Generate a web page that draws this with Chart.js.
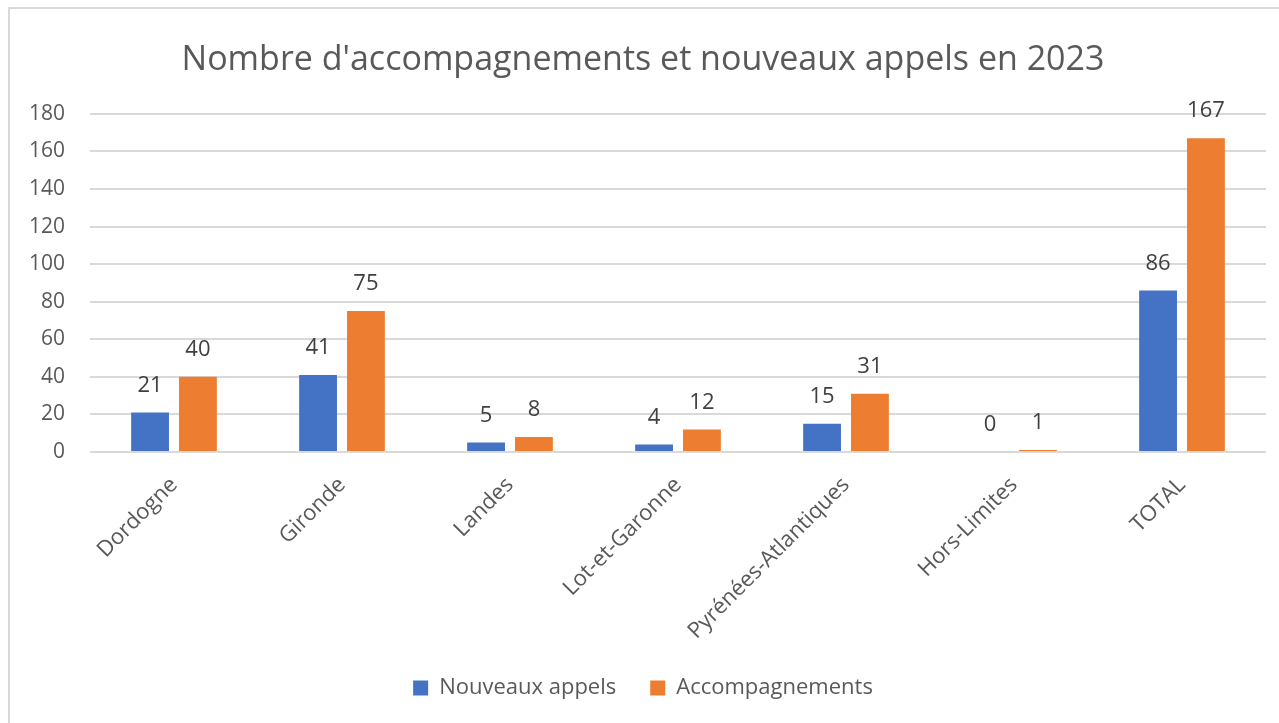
<!DOCTYPE html>
<html>
<head>
<meta charset="utf-8">
<script src="https://cdn.jsdelivr.net/npm/chart.js@4"></script>
<style>
  html, body { margin: 0; padding: 0; background: #fff; overflow: hidden; }
  #frame { position: absolute; left: 8px; top: 7px; width: 1300px; height: 800px; border: 2px solid #d9d9d9; pointer-events: none; }
  #wrap { position: absolute; left: 0; top: 0; width: 1279px; height: 723px; }
</style>
</head>
<body>
<div id="wrap"><canvas id="chart" width="1279" height="723"></canvas></div>
<div id="frame"></div>
<script>
const categories = ["Dordogne", "Gironde", "Landes", "Lot-et-Garonne", "Pyrénées-Atlantiques", "Hors-Limites", "TOTAL"];
const nouveauxAppels = [21, 41, 5, 4, 15, 0, 86];
const accompagnements = [40, 75, 8, 12, 31, 1, 167];

const FONT = "'Open Sans', 'Noto Sans', sans-serif";

// étiquettes de valeurs au-dessus des barres
const valueLabels = {
    id: "valueLabels",
    afterDatasetsDraw(chart) {
        const c = chart.ctx;
        c.save();
        c.font = "22px " + FONT;
        c.fillStyle = "#404040";
        c.textAlign = "center";
        c.textBaseline = "middle";
        chart.data.datasets.forEach((ds, i) => {
            chart.getDatasetMeta(i).data.forEach((bar, j) => {
                c.fillText(String(ds.data[j]), bar.x, bar.y - 27);
            });
        });
        c.restore();
    },
};

new Chart(document.getElementById("chart").getContext("2d"), {
    type: "bar",
    data: {
        labels: categories,
        datasets: [
            {
                label: "Nouveaux appels",
                data: nouveauxAppels,
                backgroundColor: "#4472C4",
                categoryPercentage: 0.57,
                barPercentage: 0.79,
            },
            {
                label: "Accompagnements",
                data: accompagnements,
                backgroundColor: "#ED7D31",
                categoryPercentage: 0.57,
                barPercentage: 0.79,
            },
        ],
    },
    options: {
        responsive: false,
        animation: false,
        layout: {
            padding: { left: 20, right: 13, top: 0, bottom: 14 },
        },
        plugins: {
            title: {
                display: true,
                text: "Nombre d'accompagnements et nouveaux appels en 2023",
                color: "#595959",
                font: { family: FONT, size: 34, weight: "normal" },
                padding: { top: 40, bottom: 33 },
            },
            legend: {
                position: "bottom",
                labels: {
                    color: "#595959",
                    font: { family: FONT, size: 22 },
                    boxWidth: 15,
                    boxHeight: 15,
                    padding: 34,
                },
            },
            tooltip: { enabled: false },
        },
        scales: {
            y: {
                min: 0,
                max: 180,
                border: { display: false },
                grid: { color: "#d9d9d9", lineWidth: 2, drawTicks: false },
                ticks: {
                    stepSize: 20,
                    color: "#595959",
                    padding: 25,
                    font: { family: FONT, size: 21 },
                },
                afterFit(scale) {
                    scale.width = 70;
                },
            },
            x: {
                border: { display: false },
                grid: { display: false },
                ticks: {
                    color: "#595959",
                    font: { family: FONT, size: 22 },
                    minRotation: 45,
                    maxRotation: 45,
                    padding: 12,
                },
                afterFit(scale) {
                    scale.height = 191;
                },
            },
        },
    },
    plugins: [valueLabels],
});
</script>
</body>
</html>
